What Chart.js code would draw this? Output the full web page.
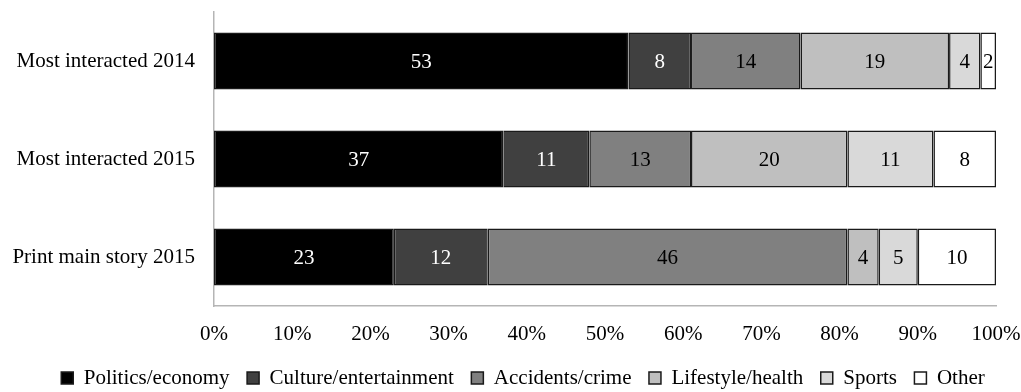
<!DOCTYPE html>
<html>
<head>
<meta charset="utf-8">
<script src="https://cdn.jsdelivr.net/npm/chart.js@4/dist/chart.umd.min.js"></script>
<style>
html,body{margin:0;padding:0;background:#fff;}
#wrap{width:1021px;height:392px;position:relative;}
</style>
</head>
<body>
<div id="wrap"><canvas id="c" width="1021" height="392"></canvas></div>
<script>
const categories = ["Most interacted 2014", "Most interacted 2015", "Print main story 2015"];
const seriesNames = ["Politics/economy", "Culture/entertainment", "Accidents/crime", "Lifestyle/health", "Sports", "Other"];
const politicsEconomy = [53, 37, 23];
const cultureEntertainment = [8, 11, 12];
const accidentsCrime = [14, 13, 46];
const lifestyleHealth = [19, 20, 4];
const sports = [4, 11, 5];
const other = [2, 8, 10];
const xTicks = [0, 10, 20, 30, 40, 50, 60, 70, 80, 90, 100];

const seriesValues = [politicsEconomy, cultureEntertainment, accidentsCrime, lifestyleHealth, sports, other];
const fills = ["#000000", "#404040", "#808080", "#bfbfbf", "#d9d9d9", "#ffffff"];
const labelColors = ["#ffffff", "#ffffff", "#000000", "#000000", "#000000", "#000000"];

const FONT = "'Liberation Serif', 'Times New Roman', serif";
Chart.defaults.font.family = FONT;
Chart.defaults.font.size = 21;
Chart.defaults.color = "#000";

const valueLabels = {
  id: "valueLabels",
  afterDatasetsDraw(chart) {
    const ctx = chart.ctx;
    ctx.save();
    ctx.font = "21px " + FONT;
    ctx.textAlign = "center";
    ctx.textBaseline = "middle";
    chart.data.datasets.forEach((ds, di) => {
      const meta = chart.getDatasetMeta(di);
      meta.data.forEach((el, i) => {
        const v = ds.data[i];
        if (!v) return;
        ctx.fillStyle = labelColors[di];
        ctx.fillText(String(v), (el.x + el.base) / 2, el.y + 1);
      });
    });
    ctx.restore();
  }
};

const legendShift = {
  id: "legendShift",
  afterLayout(chart) {
    const lg = chart.legend;
    if (lg) { lg.left += 25; lg.right += 25; }
  }
};

new Chart(document.getElementById("c"), {
  type: "bar",
  data: {
    labels: categories,
    datasets: seriesNames.map((name, i) => ({
      label: name,
      data: seriesValues[i],
      backgroundColor: fills[i],
      borderColor: "#1a1a1a",
      borderWidth: 1.5,
      borderSkipped: false,
      barPercentage: 0.58,
      categoryPercentage: 1
    }))
  },
  options: {
    indexAxis: "y",
    responsive: false,
    animation: false,
    layout: { padding: { top: 12, right: 25, left: 0, bottom: -6.5 } },
    scales: {
      x: {
        stacked: true,
        min: 0,
        max: 100,
        grid: { display: false, drawTicks: false },
        border: { display: true, color: "#b5b5b5", width: 1.5 },
        ticks: {
          padding: 16,
          autoSkip: false,
          maxRotation: 0,
          stepSize: 10,
          callback: (v) => xTicks.includes(v) ? v + "%" : ""
        },
        afterFit: (s) => { s.height = 44; s.paddingLeft = 0; s.paddingRight = 0; }
      },
      y: {
        stacked: true,
        grid: { display: false, drawTicks: false },
        border: { display: true, color: "#b5b5b5", width: 1.5 },
        ticks: { padding: 19 },
        afterFit: (s) => { s.width = 214; s.paddingTop = 0; s.paddingBottom = 0; }
      }
    },
    plugins: {
      tooltip: { enabled: false },
      legend: {
        position: "bottom",
        align: "center",
        labels: {
          boxWidth: 12,
          boxHeight: 12,
          padding: 17.5,
          font: { size: 21, family: FONT },
          color: "#000"
        }
      }
    }
  },
  plugins: [valueLabels, legendShift]
});
</script>
</body>
</html>
